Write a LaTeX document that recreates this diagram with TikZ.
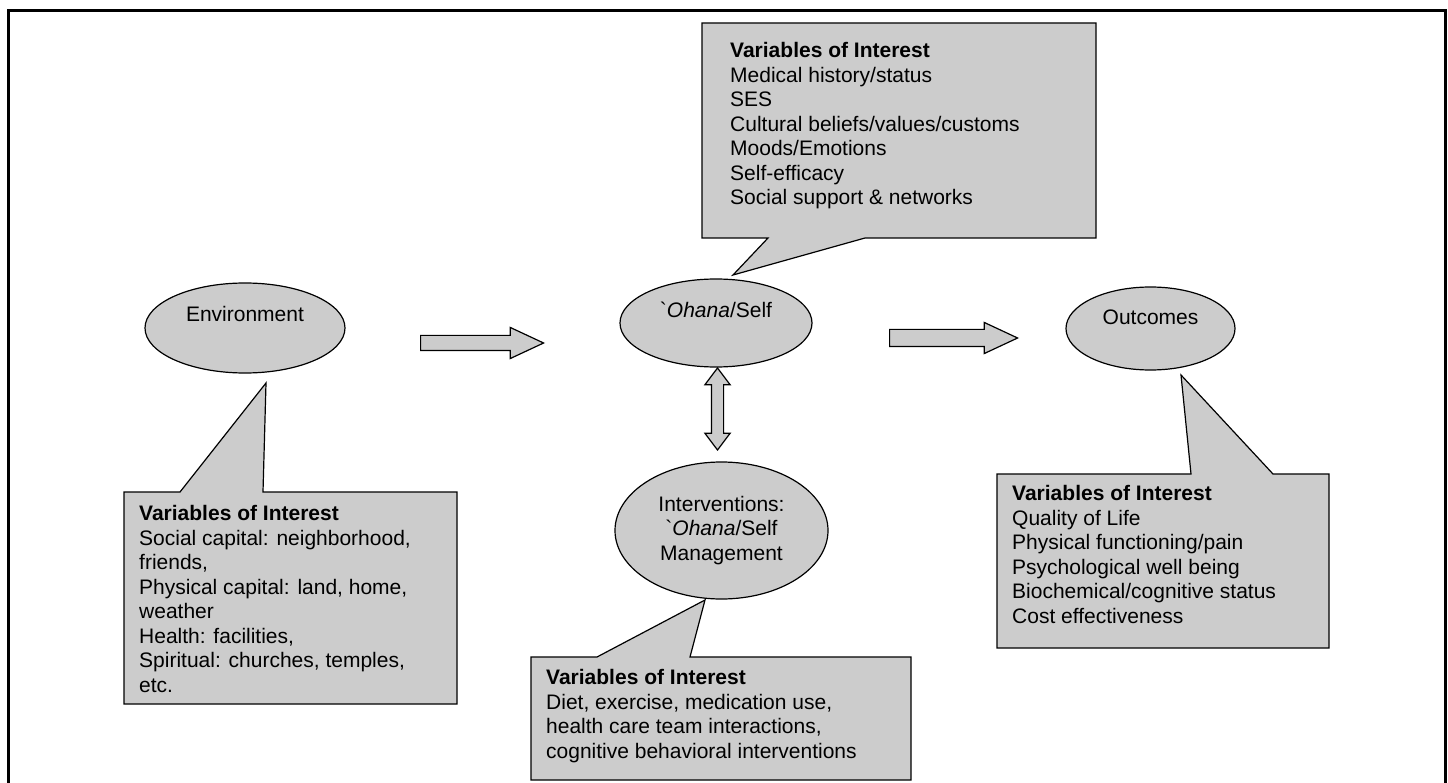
\documentclass[tikz,border=0pt]{standalone}
\usepackage{fontspec}
\setmainfont{Liberation Sans}
\usepackage{tikz}
\usetikzlibrary{shapes.geometric, shapes.arrows, positioning}
\definecolor{bubblegray}{RGB}{204,204,204}

\begin{document}
\begin{tikzpicture}[
    x=1pt, y=-1pt,
    every node/.style={font=\fontsize{21}{24.5}\selectfont},
    bubble/.style={ellipse, draw=black, line width=1.2pt, fill=bubblegray, inner sep=0pt, align=center},
    oneliner/.style={text height=15pt, text depth=25pt},
    callout/.style={draw=black, line width=1.2pt, fill=bubblegray},
    varlist/.style={anchor=north west, align=left, inner sep=0pt},
    blockarrow/.style={single arrow, anchor=tail, draw=black, line width=1.2pt, fill=bubblegray, inner xsep=0pt, single arrow tip angle=50, single arrow head indent=0pt}
]
\useasboundingbox (0,0) rectangle (1448,783);

% frame
\draw[line width=3pt] (8,783) -- (8,11) -- (1445,11) -- (1445,783);

% main ellipses
\node[bubble, oneliner, minimum width=200pt, minimum height=90pt, text depth=28pt] (env) at (245,328) {Environment};
\node[bubble, oneliner, minimum width=192pt, minimum height=88pt] (self) at (716,323) {\textasciigrave\textit{Ohana}/Self};
\node[bubble, oneliner, minimum width=169pt, minimum height=83pt, text depth=23pt] (outcomes) at (1150.5,328.5) {Outcomes};
\node[bubble, minimum width=213pt, minimum height=137pt] (interv) at (721.5,530.5) {Interventions:\\\textasciigrave\textit{Ohana}/Self\\Management};

% block arrows (minimum height = length, minimum width = head)
\node[blockarrow, minimum height=123pt, minimum width=30pt, inner ysep=7pt, single arrow head extend=8pt] (envarrow) at (420,343) {};
\node[blockarrow, minimum height=128pt, minimum width=30pt, inner ysep=8pt, single arrow head extend=7pt] (selfarrow) at (889,338) {};
\node[double arrow, draw=black, line width=1.2pt, fill=bubblegray, inner xsep=0pt, inner ysep=5.5pt,
      double arrow head extend=6.5pt, double arrow tip angle=74, minimum height=82pt, minimum width=24pt, rotate=90] (linkarrow) at (717.5,409) {};

% callouts
\coordinate (envtip) at (266,383);
\coordinate (selftip) at (733,275);
\coordinate (intervtip) at (705,600);
\coordinate (outtip) at (1181,375);

\draw[callout] (124,492) -- (180,492) -- (envtip) -- (263,492) -- (457,492) -- (457,704) -- (124,704) -- cycle;
\draw[callout] (702,23) -- (1096,23) -- (1096,238) -- (865,238) -- (selftip) -- (768,238) -- (702,238) -- cycle;
\draw[callout] (531,657) -- (597,657) -- (intervtip) -- (690,657) -- (911,657) -- (911,780) -- (531,780) -- cycle;
\draw[callout] (997,474) -- (1191,474) -- (outtip) -- (1273,474) -- (1329,474) -- (1329,648) -- (997,648) -- cycle;

\node[varlist] (envvars) at (139,505.5) {\textbf{Variables of Interest}\\
    Social capital: neighborhood,\\friends,\\Physical capital: land, home,\\weather\\
    Health: facilities,\\Spiritual: churches, temples,\\etc.};
\node[varlist] (selfvars) at (730,42.5) {\textbf{Variables of Interest}\\
    Medical history/status\\SES\\Cultural beliefs/values/customs\\Moods/Emotions\\
    Self-efficacy\\Social support \& networks};
\node[varlist] (intervvars) at (546,669.5) {\textbf{Variables of Interest}\\
    Diet, exercise, medication use,\\health care team interactions,\\cognitive behavioral interventions};
\node[varlist] (outvars) at (1012,485.5) {\textbf{Variables of Interest}\\
    Quality of Life\\Physical functioning/pain\\Psychological well being\\
    Biochemical/cognitive status\\Cost effectiveness};

\end{tikzpicture}
\end{document}
